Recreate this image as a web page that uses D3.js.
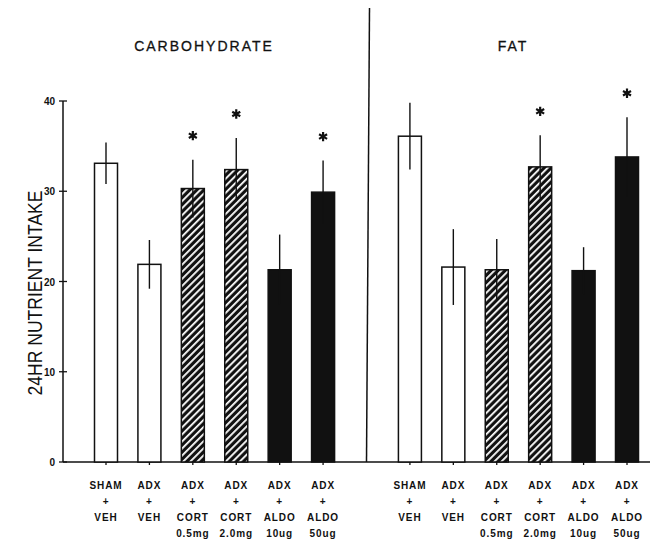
<!DOCTYPE html>
<html>
<head>
<meta charset="utf-8">
<script src="https://cdn.jsdelivr.net/npm/d3@7"></script>
<style>
  body { margin: 0; background: #fff; }
  text { font-family: "Liberation Sans", Arial, sans-serif; fill: #111; }
</style>
</head>
<body>
<div id="app"></div>
<script>
// groups and treatments
const groups = ["CARBOHYDRATE", "FAT"];
const treatTop = ["SHAM", "ADX", "ADX", "ADX", "ADX", "ADX"];
const treatMid = ["VEH", "VEH", "CORT", "CORT", "ALDO", "ALDO"];
const treatDose = ["", "", "0.5mg", "2.0mg", "10ug", "50ug"];
const fills = ["open", "open", "hatch", "hatch", "solid", "solid"];

// mean and SE
const carbMean = [33.1, 21.9, 30.3, 32.4, 21.3, 29.9];
const carbSE   = [2.3, 2.7, 3.2, 3.5, 3.9, 3.5];
const carbStar = [false, false, true, true, false, true];
const fatMean  = [36.1, 21.6, 21.3, 32.7, 21.2, 33.8];
const fatSE    = [3.7, 4.2, 3.4, 3.5, 2.6, 4.4];
const fatStar  = [false, false, false, true, false, true];

const yTicks = [0, 10, 20, 30, 40];

const width = 655, height = 541;

const svg = d3.select("#app").append("svg")
  .attr("width", width)
  .attr("height", height);

// hatch pattern: black with white diagonal stripes
const defs = svg.append("defs");
const pat = defs.append("pattern")
  .attr("id", "hatch")
  .attr("patternUnits", "userSpaceOnUse")
  .attr("width", 5).attr("height", 5)
  .attr("patternTransform", "rotate(45)");
pat.append("rect").attr("width", 5).attr("height", 5).attr("fill", "#111");
pat.append("rect").attr("x", 0).attr("width", 1.8).attr("height", 5).attr("fill", "#fff");

// slot 0..5 carb, 7..12 fat
const x = d3.scaleLinear().domain([0, 12]).range([106, 627]);
const y = d3.scaleLinear().domain([0, 40]).range([462, 101]);

const bars = [];
carbMean.forEach((m, i) => bars.push({ slot: i, mean: m, se: carbSE[i], star: carbStar[i], fill: fills[i], t: i }));
fatMean.forEach((m, i) => bars.push({ slot: i + 7, mean: m, se: fatSE[i], star: fatStar[i], fill: fills[i], t: i }));

// y axis
const axisX = 63;
svg.append("line")
  .attr("x1", axisX).attr("x2", axisX)
  .attr("y1", y(40)).attr("y2", y(0))
  .attr("stroke", "#111").attr("stroke-width", 1.5);
svg.selectAll(".ytick").data(yTicks).enter().append("line")
  .attr("x1", axisX - 4).attr("x2", axisX + 4)
  .attr("y1", d => y(d)).attr("y2", d => y(d))
  .attr("stroke", "#111").attr("stroke-width", 1.3);
svg.selectAll(".ylab").data(yTicks).enter().append("text")
  .attr("x", axisX - 8).attr("y", d => y(d) + 4)
  .attr("text-anchor", "end")
  .attr("font-size", 10).attr("font-weight", "bold")
  .text(d => d);

// baseline
svg.append("line")
  .attr("x1", axisX).attr("x2", 650)
  .attr("y1", y(0)).attr("y2", y(0))
  .attr("stroke", "#111").attr("stroke-width", 1.5);

// divider
svg.append("line")
  .attr("x1", x(6) + 3).attr("x2", x(6))
  .attr("y1", 8).attr("y2", y(0))
  .attr("stroke", "#111").attr("stroke-width", 1.5);

const bw = 23;
// bars
svg.selectAll(".bar").data(bars).enter().append("rect")
  .attr("x", d => x(d.slot) - bw / 2)
  .attr("width", bw)
  .attr("y", d => y(d.mean))
  .attr("height", d => y(0) - y(d.mean))
  .attr("fill", d => d.fill === "open" ? "#fff" : d.fill === "hatch" ? "url(#hatch)" : "#111")
  .attr("stroke", "#111").attr("stroke-width", 1.5);

// error bars
svg.selectAll(".err").data(bars).enter().append("line")
  .attr("x1", d => x(d.slot)).attr("x2", d => x(d.slot))
  .attr("y1", d => y(d.mean - d.se)).attr("y2", d => y(d.mean + d.se))
  .attr("stroke", "#111").attr("stroke-width", 1.4);

// baseline ticks under bars
svg.selectAll(".xtick").data(bars).enter().append("line")
  .attr("x1", d => x(d.slot)).attr("x2", d => x(d.slot))
  .attr("y1", y(0)).attr("y2", y(0) + 3)
  .attr("stroke", "#111").attr("stroke-width", 1.3);

// stars (6-armed asterisk)
const starSym = d3.symbol().type(d3.symbolAsterisk || d3.symbolCross).size(60);
svg.selectAll(".star").data(bars.filter(d => d.star)).enter().append("path")
  .attr("transform", d => `translate(${x(d.slot)},${y(d.mean + d.se) - 24})`)
  .attr("d", starSym)
  .attr("fill", "none")
  .attr("stroke", "#111").attr("stroke-width", 2.2);

// category labels
const rows = [[treatTop, 489], [treatTop.map(() => "+"), 505], [treatMid, 521], [treatDose, 537]];
rows.forEach(([arr, yy]) => {
  svg.selectAll(null).data(bars).enter().append("text")
    .attr("x", d => x(d.slot))
    .attr("y", yy)
    .attr("text-anchor", "middle")
    .attr("font-size", 10).attr("font-weight", "bold")
    .attr("letter-spacing", 0.9)
    .text(d => arr[d.t]);
});

// group titles
svg.selectAll(".title").data(groups).enter().append("text")
  .attr("x", (d, i) => i === 0 ? 204 : 513)
  .attr("y", 51)
  .attr("text-anchor", "middle")
  .attr("font-size", 14)
  .attr("letter-spacing", 2)
  .attr("stroke", "#111").attr("stroke-width", 0.3)
  .text(d => d);

// y label
svg.append("text")
  .attr("transform", "translate(42,293) rotate(-90)")
  .attr("text-anchor", "middle")
  .attr("font-size", 20)
  .attr("textLength", 205)
  .attr("lengthAdjust", "spacingAndGlyphs")
  .text("24HR NUTRIENT INTAKE");
</script>
</body>
</html>
